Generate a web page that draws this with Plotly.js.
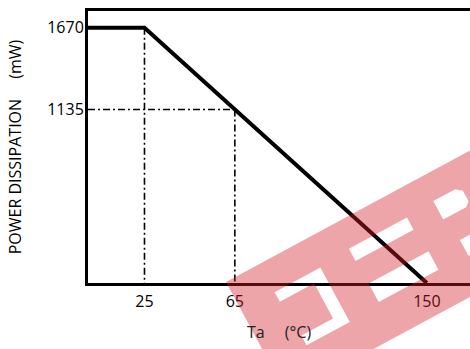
<!DOCTYPE html>
<html>
<head>
<meta charset="utf-8">
<script src="https://cdn.plot.ly/plotly-3.0.1.min.js"></script>
<style>
  html, body { margin: 0; padding: 0; background: #fff; }
  #chart { width: 470px; height: 349px; }
</style>
</head>
<body>
<div id="chart"></div>
<script>
// derating curve (Ta in °C, power in mW)
const temps = [0, 25, 150];
const power = [1670, 1670, 0];

// dash-dot guide points
const kneeTemp = 25, kneePower = 1670;
const midTemp = 65, midPower = 1135;

const xTicks = [25, 65, 150];
const yTicks = [1135, 1670];

const FONT = "Open Sans, Noto Sans, sans-serif";

// plot area in pixels (for the watermark only)
const PL = 88, PR = 470, PT = 11, PB = 283;
function px(x) { return (x - PL) / (PR - PL); }
function py(y) { return (PB - y) / (PB - PT); }

// watermark band, drawn in a rotated frame
const C0 = [226, 282], U = [0.880, -0.474], V = [0.474, 0.880];
function pt(s, t) {
  const x = C0[0] + s * U[0] + t * V[0];
  const y = C0[1] + s * U[1] + t * V[1];
  return px(x).toFixed(4) + "," + py(y).toFixed(4);
}
function poly(pts) {
  return "M" + pts.map(p => pt(p[0], p[1])).join("L") + "Z";
}
const band = poly([[0, 0], [330, 0], [330, 129], [0, 129]]);
const holes = [
  [[38, 32], [90, 32], [90, 94], [41, 94], [41, 83], [77, 83], [77, 43], [38, 43]],
  [[124, 29], [190, 29], [190, 43], [124, 43]],
  [[125, 69], [193, 69], [193, 90], [125, 90]],
  [[221, 27], [246, 27], [252, 32], [252, 44], [247, 48], [221, 48]],
  [[226, 74], [330, 74], [330, 92], [226, 92]]
].map(poly).join("");

const dashdot = "7px,3px,2px,3px";

const traces = [
  { x: [0, midTemp], y: [midPower, midPower], mode: "lines",
    line: { color: "#000", width: 1.6, dash: dashdot }, hoverinfo: "skip" },
  { x: [kneeTemp, kneeTemp], y: [kneePower, 0], mode: "lines",
    line: { color: "#000", width: 1.6, dash: dashdot }, hoverinfo: "skip" },
  { x: [midTemp, midTemp], y: [midPower, 0], mode: "lines",
    line: { color: "#000", width: 1.6, dash: dashdot }, hoverinfo: "skip" },
  { x: temps, y: power, mode: "lines",
    line: { color: "#000", width: 4 } }
];

const layout = {
  width: 470,
  height: 349,
  margin: { l: PL, r: 470 - PR, t: PT, b: 349 - PB },
  showlegend: false,
  paper_bgcolor: "#fff",
  plot_bgcolor: "#fff",
  font: { family: FONT, color: "#000" },
  xaxis: {
    range: [0, 169.1],
    showgrid: false, zeroline: false,
    showline: true, linecolor: "#000", linewidth: 3, mirror: true,
    ticks: "", tickvals: xTicks, ticktext: xTicks.map(String),
    tickfont: { family: FONT, size: 16, color: "#000" },
    ticklabelstandoff: 2,
    title: { text: "Ta\u3000 (°C)", font: { family: FONT, size: 16, color: "#222" }, standoff: 16 }
  },
  yaxis: {
    range: [0, 1780],
    showgrid: false, zeroline: false,
    showline: true, linecolor: "#000", linewidth: 3,
    ticks: "", tickvals: yTicks, ticktext: yTicks.map(String),
    tickfont: { family: FONT, size: 16, color: "#000" },
    ticklabelstandoff: -2,
    title: { text: "POWER DISSIPATION\u3000 (mW)", font: { family: FONT, size: 16, color: "#000" }, standoff: 22 }
  },
  shapes: [
    { type: "path", xref: "paper", yref: "paper", layer: "above",
      path: band + holes, fillrule: "evenodd",
      fillcolor: "rgba(210,30,40,0.4)", line: { width: 0 } }
  ]
};

Plotly.newPlot("chart", traces, layout, { displayModeBar: false, staticPlot: true });
</script>
</body>
</html>
